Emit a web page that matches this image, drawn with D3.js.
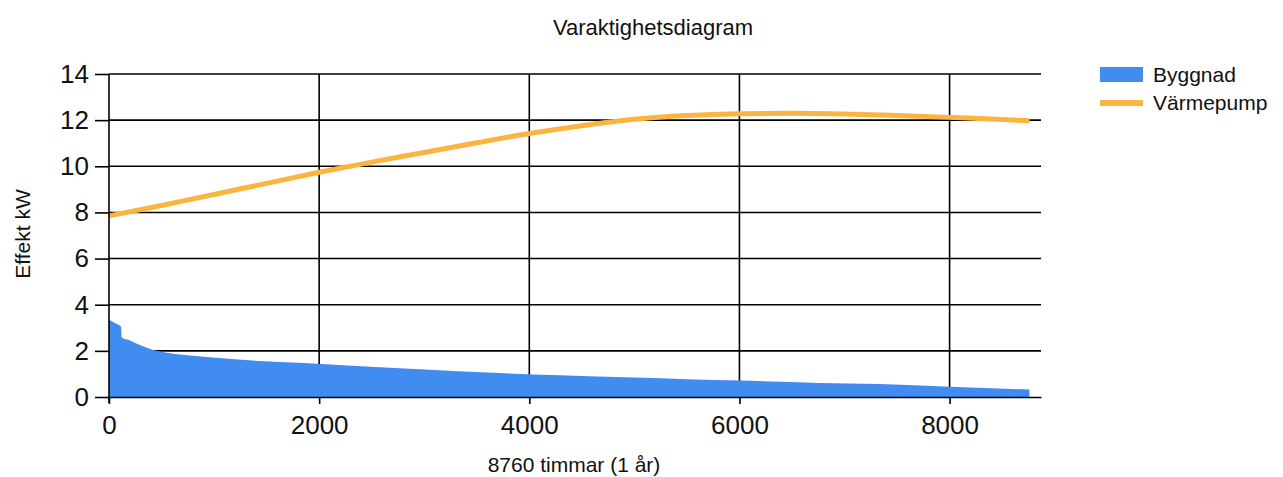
<!DOCTYPE html>
<html>
<head>
<meta charset="utf-8">
<script src="https://cdn.jsdelivr.net/npm/d3@7"></script>
<style>
  body { margin: 0; background: #fff; }
  svg { display: block; font-family: "Liberation Sans", Arial, sans-serif; }
</style>
</head>
<body>
<div class="chart"></div>
<script>
// Byggnad (building load, duration curve)
const byggnadHours = [0, 80, 115, 122, 200, 300, 420, 550, 750, 1050, 1430, 1810, 2400, 3050, 3600, 4290, 5000, 5500, 6000, 6760, 7330, 8000, 8400, 8760];
const byggnadKW    = [3.35, 3.15, 3.05, 2.58, 2.45, 2.24, 2.04, 1.92, 1.81, 1.69, 1.56, 1.48, 1.33, 1.18, 1.06, 0.94, 0.84, 0.77, 0.71, 0.61, 0.56, 0.44, 0.38, 0.32];

// Värmepump (heat pump capacity)
const pumpHours = [0, 500, 1000, 1500, 2000, 2500, 3000, 3500, 4000, 4500, 5000, 5500, 6000, 6500, 7000, 7500, 8000, 8500, 8760];
const pumpKW    = [7.85, 8.3, 8.78, 9.26, 9.74, 10.18, 10.6, 11.02, 11.42, 11.76, 12.04, 12.2, 12.28, 12.3, 12.27, 12.2, 12.12, 12.03, 11.97];

const xTicks = [0, 2000, 4000, 6000, 8000];
const yTicks = [0, 2, 4, 6, 8, 10, 12, 14];

const byggnad = byggnadHours.map((h, i) => ({ h: h, v: byggnadKW[i] }));
const pump = pumpHours.map((h, i) => ({ h: h, v: pumpKW[i] }));

const W = 1283, H = 477;
const margin = { top: 74, left: 109 };
const width = 932, height = 323;

const svg = d3.select(".chart").append("svg")
  .attr("width", W).attr("height", H);

const g = svg.append("g")
  .attr("transform", `translate(${margin.left},${margin.top})`);

const x = d3.scaleLinear().domain([0, 8870]).range([0, width]);
const y = d3.scaleLinear().domain([0, 14]).range([height, 0]);

// grid
g.selectAll(".hgrid").data(yTicks.filter(d => d > 0)).enter().append("line")
  .attr("x1", 0).attr("x2", width)
  .attr("y1", d => y(d)).attr("y2", d => y(d))
  .attr("stroke", "#000").attr("stroke-width", 1.6);
g.selectAll(".vgrid").data(xTicks.filter(d => d > 0)).enter().append("line")
  .attr("x1", d => x(d)).attr("x2", d => x(d))
  .attr("y1", 0).attr("y2", height)
  .attr("stroke", "#000").attr("stroke-width", 1.6);

// area
const area = d3.area()
  .x(d => x(d.h)).y0(y(0)).y1(d => y(d.v))
  .curve(d3.curveMonotoneX);
g.append("path").datum(byggnad)
  .attr("d", area)
  .attr("fill", "#418CF0");

// line
const line = d3.line()
  .x(d => x(d.h)).y(d => y(d.v))
  .curve(d3.curveMonotoneX);
g.append("path").datum(pump)
  .attr("d", line)
  .attr("fill", "none")
  .attr("stroke", "#FCB441")
  .attr("stroke-width", 5);

// axes
const xAxis = g.append("g")
  .attr("transform", `translate(0,${height})`)
  .call(d3.axisBottom(x).tickValues(xTicks).tickFormat(d3.format("d"))
    .tickSize(7).tickPadding(12).tickSizeOuter(0));
const yAxis = g.append("g")
  .call(d3.axisLeft(y).tickValues(yTicks).tickFormat(d3.format("d"))
    .tickSize(14).tickPadding(6).tickSizeOuter(0));

[xAxis, yAxis].forEach(a => {
  a.select(".domain").attr("stroke", "#000").attr("stroke-width", 1.6);
  a.selectAll(".tick line").attr("stroke", "#000").attr("stroke-width", 1.6);
  a.selectAll("text")
    .attr("fill", "#111")
    .style("font-size", "26px")
    .style("font-family", "'Liberation Sans', Arial, sans-serif");
});
// extend y axis a bit below the baseline like the original
yAxis.select(".domain").attr("d", `M0,0V${height + 6}`);

// title
svg.append("text")
  .attr("x", 653).attr("y", 35)
  .attr("text-anchor", "middle")
  .style("font-size", "22px")
  .attr("fill", "#111")
  .text("Varaktighetsdiagram");

// axis titles
svg.append("text")
  .attr("x", 574).attr("y", 472)
  .attr("text-anchor", "middle")
  .style("font-size", "21px")
  .attr("fill", "#111")
  .text("8760 timmar (1 år)");

svg.append("text")
  .attr("transform", "translate(30,234) rotate(-90)")
  .attr("text-anchor", "middle")
  .style("font-size", "21px")
  .attr("fill", "#111")
  .text("Effekt kW");

// legend
const legend = svg.append("g");
legend.append("rect")
  .attr("x", 1100).attr("y", 67).attr("width", 43).attr("height", 15)
  .attr("fill", "#418CF0");
legend.append("text")
  .attr("x", 1153).attr("y", 82)
  .style("font-size", "21px").attr("fill", "#111")
  .text("Byggnad");
legend.append("line")
  .attr("x1", 1100).attr("x2", 1143).attr("y1", 103).attr("y2", 103)
  .attr("stroke", "#FCB441").attr("stroke-width", 6);
legend.append("text")
  .attr("x", 1153).attr("y", 110)
  .style("font-size", "21px").attr("fill", "#111")
  .text("Värmepump");
</script>
</body>
</html>
